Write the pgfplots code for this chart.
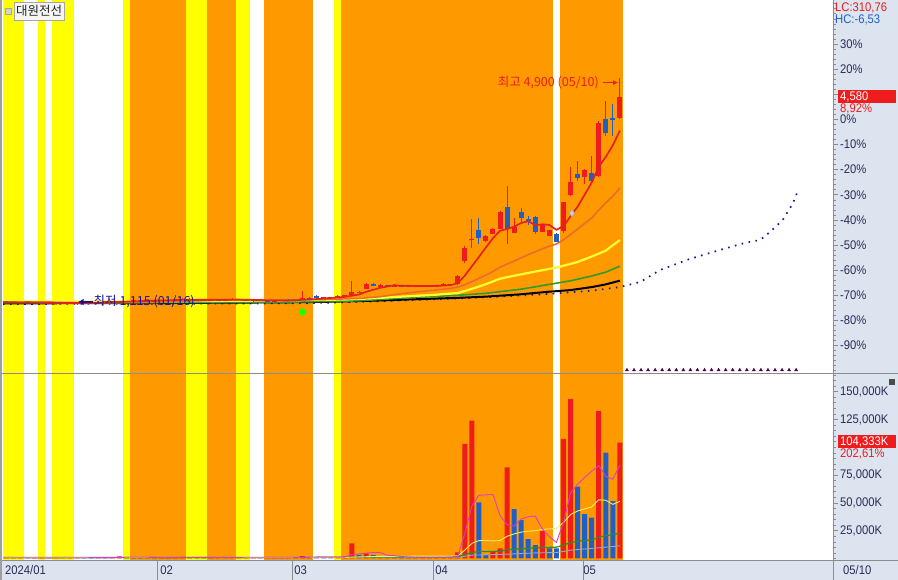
\documentclass[border=0pt]{standalone}
\usepackage{pgfplots}
\pgfplotsset{compat=1.18}
\usepackage{pgfplotstable}
\usepackage{fontspec}
\usetikzlibrary{arrows.meta}
\setmainfont{Liberation Sans}
\newfontfamily\lab[FakeStretch=0.9]{Liberation Sans}
\newfontfamily\kr{Noto Sans CJK KR}
\definecolor{bandY}{HTML}{FFFF00}
\definecolor{bandO}{HTML}{FF9900}
\definecolor{panel}{HTML}{DCE4F0}
\definecolor{cred}{HTML}{EE1C1C}
\definecolor{cblue}{HTML}{1F5FC8}
\definecolor{ma5}{HTML}{E8201A}
\definecolor{ma20}{HTML}{EE6A2C}
\definecolor{ma60}{HTML}{FFFF30}
\definecolor{ma120}{HTML}{2E9A30}
\definecolor{dotblue}{HTML}{1414A0}
\definecolor{labc}{HTML}{2B2B55}
\definecolor{gridc}{HTML}{8C8C8C}
\definecolor{vmag}{HTML}{DD3CC8}
\definecolor{vyel}{HTML}{EFEF60}
\definecolor{vgrn}{HTML}{2E8B2E}
\definecolor{vgry}{HTML}{8FA8D8}
\newcommand{\lf}{\lab\fontsize{12.5bp}{12.5bp}\selectfont}
\newcommand{\kf}{\kr\fontsize{12.5bp}{12.5bp}\selectfont}
\newcommand{\tf}{\kr\fontsize{12.5bp}{12.5bp}\selectfont}
\newcommand{\drawbands}[2]{%
  \fill[bandY] (axis cs:0,#1) rectangle (axis cs:3,#2);
  \fill[bandY] (axis cs:5,#1) rectangle (axis cs:6,#2);
  \fill[bandY] (axis cs:7,#1) rectangle (axis cs:10,#2);
  \fill[bandY] (axis cs:17,#1) rectangle (axis cs:18,#2);
  \fill[bandO] (axis cs:18,#1) rectangle (axis cs:26,#2);
  \fill[bandY] (axis cs:26,#1) rectangle (axis cs:29,#2);
  \fill[bandO] (axis cs:29,#1) rectangle (axis cs:33,#2);
  \fill[bandY] (axis cs:33,#1) rectangle (axis cs:35,#2);
  \fill[bandO] (axis cs:37,#1) rectangle (axis cs:44,#2);
  \fill[bandY] (axis cs:47,#1) rectangle (axis cs:48,#2);
  \fill[bandO] (axis cs:48,#1) rectangle (axis cs:78,#2);
  \fill[bandO] (axis cs:79,#1) rectangle (axis cs:88,#2);
}

\pgfplotstableread{
d O H L C
2 1140 1150 1130 1145
3 1145 1160 1140 1150
6 1135 1145 1125 1140
10 1125 1135 1115 1130
11 1130 1140 1125 1135
12 1135 1150 1130 1145
13 1145 1160 1140 1150
14 1150 1165 1145 1160
17 1150 1175 1145 1170
18 1170 1185 1160 1175
19 1175 1200 1165 1180
21 1170 1185 1160 1175
22 1175 1190 1165 1185
24 1180 1195 1170 1190
25 1190 1215 1180 1200
29 1180 1200 1175 1195
31 1185 1195 1175 1190
32 1190 1210 1185 1200
35 1175 1185 1165 1180
38 1170 1180 1160 1175
39 1175 1190 1170 1185
41 1180 1190 1170 1185
42 1185 1330 1180 1210
45 1215 1235 1205 1225
46 1225 1240 1215 1230
47 1230 1260 1220 1255
48 1250 1275 1240 1260
49 1260 1500 1250 1310
50 1310 1340 1295 1320
51 1365 1465 1360 1459
53 1420 1445 1410 1430
55 1420 1450 1410 1425
57 1415 1430 1400 1420
59 1410 1435 1405 1425
61 1420 1440 1410 1430
62 1430 1460 1420 1440
63 1440 1455 1425 1450
64 1449 1600 1440 1587
65 1838 2080 1800 2050
66 2184 2535 2050 2210
68 2172 2270 2160 2251
69 2294 2380 2280 2368
70 2378 2680 2370 2657
72 2311 2551 2300 2406
76 2328 2440 2320 2435
77 2256 2360 2250 2351
79 2339 2830 2311 2824
80 2936 3409 2920 3158
82 3247 3380 3120 3354
84 3258 4170 3240 4149
87 4233 4900 4210 4580
}\redc
\pgfplotstableread{
d O H L C
0 1150 1165 1140 1145
1 1145 1155 1135 1140
4 1150 1155 1135 1140
5 1140 1150 1130 1135
7 1140 1150 1130 1135
8 1135 1140 1125 1130
9 1130 1135 1120 1125
15 1160 1170 1150 1155
16 1155 1165 1145 1150
20 1180 1190 1165 1170
23 1185 1195 1175 1180
26 1200 1210 1185 1190
27 1190 1200 1180 1185
28 1185 1195 1175 1180
30 1195 1205 1180 1185
33 1200 1205 1180 1185
34 1185 1195 1170 1175
36 1180 1190 1170 1175
37 1175 1185 1165 1170
40 1185 1195 1175 1180
43 1210 1230 1195 1205
44 1253 1265 1205 1215
52 1450 1460 1410 1420
54 1430 1440 1405 1420
56 1425 1435 1400 1415
58 1420 1430 1400 1410
60 1425 1440 1410 1420
67 2351 2551 2117 2217
71 2740 3091 2127 2368
73 2657 2729 2478 2562
74 2530 2590 2440 2518
75 2573 2590 2284 2328
78 2294 2300 2150 2156
81 3297 3509 3175 3230
83 3304 3593 3150 3175
85 4206 4512 3927 3982
86 4220 4457 3927 4205
}\bluec
\pgfplotstableread{
d v
0 0.8
2 0.7
4 0.6
6 0.7
9 0.6
10 0.9
13 0.8
15 1.2
16 1.8
22 0.8
24 0.9
25 1.4
30 0.8
32 0.8
35 0.6
37 0.6
38 0.7
40 0.7
42 2.2
47 1.2
48 2.0
49 13.7
51 4.7
59 0.9
61 0.9
62 1.0
63 1.5
64 5.6
65 103
66 124
69 6.7
70 9.2
71 82
76 24.7
79 107.5
80 143.4
84 132.6
87 104.3
}\redv
\pgfplotstableread{
d v
1 0.6
3 0.5
5 0.5
7 0.6
8 0.5
11 0.7
12 0.6
14 0.7
17 1.0
18 0.9
19 0.8
20 0.7
21 0.6
23 0.7
26 1.2
27 0.9
28 0.8
29 0.7
31 0.7
33 0.6
34 0.5
36 0.5
39 0.6
41 0.6
43 1.4
44 1.2
45 0.9
46 0.9
50 3.0
52 3.2
53 2.0
54 1.5
55 1.2
56 1.0
57 0.9
58 0.8
60 0.8
67 50.5
68 3.1
72 44.5
73 34.6
74 17.5
75 12.1
77 9.2
78 9.2
81 64.6
82 40.0
83 36.7
85 95.2
86 51.5
}\bluev

\pgfplotsset{chartax/.style={
  scale only axis, width=830bp, xmin=0, xmax=117.73,
  axis line style={draw=none},
  ytick pos=right, yticklabel pos=right,
  tick align=outside, major tick length=5bp, minor tick length=3bp,
  ytick style={draw=gridc, line width=0.7bp},
  minor y tick style={draw=gridc, line width=0.6bp},
  yticklabel style={font=\lf, text=labc, anchor=west, inner sep=0pt, xshift=2bp},
}}

\begin{document}
\begin{tikzpicture}[x=1bp,y=1bp]
\useasboundingbox (0,0) rectangle (898,580);
\fill[white] (0,0) rectangle (898,580);
\fill[panel] (833,0) rectangle (898,580);
\fill[panel] (0,0) rectangle (898,19.5);

% ---------------- price panel ----------------
\begin{axis}[chartax,
  at={(3bp,207bp)}, anchor=south west, height=373bp,
  ymin=-37, ymax=6202,
  xtick=\empty,
  ytick={5466.5,5046,4625.5,4205,3784.5,3364,2943.5,2523,2102.5,1682,1261.5,841,420.5},
  yticklabels={30\%,20\%,{},0\%,-10\%,-20\%,-30\%,-40\%,-50\%,-60\%,-70\%,-80\%,-90\%},
  minor ytick={0,84.1,...,6200},
]
\drawbands{-37}{6202}
% long moving averages
\addplot[dotblue, line width=1.7bp, dash pattern=on 1.6bp off 5.45bp] coordinates {(0,1118)(20.5,1120)(40.5,1128)(46.5,1140)(52.5,1160)(58.5,1184)(68.5,1230)(77.5,1285)(83.5,1340)(87.5,1400)(90.4,1486)(93.2,1686)(97.4,1870)(101.7,2021)(105.2,2138)(107.4,2188)(108.8,2322)(110.6,2523)(112,2791)(112.8,3025)};
\addplot[black, line width=2bp] coordinates {(0,1128)(20.5,1132)(40.5,1145)(46.5,1155)(52.5,1172)(58.5,1196)(64.5,1220)(68.5,1240)(73.5,1280)(77.5,1323)(80.5,1350)(83.5,1400)(85.5,1445)(87.5,1507)};
\addplot[ma120, line width=1.6bp] coordinates {(0,1135)(20.5,1138)(40.5,1148)(50.5,1170)(58.5,1230)(64.5,1262)(68.5,1296)(73.5,1365)(77.5,1445)(80.5,1505)(83.5,1585)(85.5,1650)(87.5,1750)};
\addplot[ma60, line width=2.2bp] coordinates {(0,1162)(10.5,1158)(20.5,1160)(30.5,1168)(40.5,1178)(48.5,1192)(52.5,1212)(56.5,1240)(60.5,1265)(64.5,1300)(66.5,1370)(68.5,1450)(70.5,1540)(72.5,1590)(75.5,1660)(78.5,1725)(81.5,1820)(83.5,1910)(85.5,2010)(87.5,2188)};
\addplot[ma20, line width=1.6bp] coordinates {(0,1150)(5.5,1147)(10.5,1141)(15.5,1140)(20.5,1148)(25.5,1163)(30.5,1180)(35.5,1186)(40.5,1183)(45.5,1192)(50.5,1210)(53.5,1240)(56.5,1290)(60.5,1340)(63.5,1378)(64.5,1400)(65.5,1440)(66.5,1490)(67.5,1545)(68.5,1600)(69.5,1660)(70.5,1730)(71.5,1785)(72.5,1835)(73.5,1890)(74.5,1945)(75.5,1990)(76.5,2040)(77.5,2085)(78.5,2120)(79.5,2190)(80.5,2280)(81.5,2370)(82.5,2465)(83.5,2555)(84.5,2690)(85.5,2810)(86.5,2920)(87.5,3060)};
% candles: wicks
\addplot[draw=none, mark=none, error bars/.cd, y dir=both, y explicit, error mark=none,
  error bar style={draw=cred, line width=1bp}]
  table[x expr=\thisrow{d}+0.5, y expr=(\thisrow{H}+\thisrow{L})/2, y error expr=(\thisrow{H}-\thisrow{L})/2] {\redc};
\addplot[draw=none, mark=none, error bars/.cd, y dir=both, y explicit, error mark=none,
  error bar style={draw=cblue, line width=1bp}]
  table[x expr=\thisrow{d}+0.5, y expr=(\thisrow{H}+\thisrow{L})/2, y error expr=(\thisrow{H}-\thisrow{L})/2] {\bluec};
% candles: bodies
\addplot[draw=none, mark=none, error bars/.cd, y dir=both, y explicit, error mark=none,
  error bar style={draw=cred, line width=5bp}]
  table[x expr=\thisrow{d}+0.5, y expr=(\thisrow{O}+\thisrow{C})/2, y error expr={max(abs(\thisrow{C}-\thisrow{O})/2,9)}] {\redc};
\addplot[draw=none, mark=none, error bars/.cd, y dir=both, y explicit, error mark=none,
  error bar style={draw=cblue, line width=5bp}]
  table[x expr=\thisrow{d}+0.5, y expr=(\thisrow{O}+\thisrow{C})/2, y error expr={max(abs(\thisrow{C}-\thisrow{O})/2,9)}] {\bluec};
% 5-day average
\addplot[ma5, line width=1.7bp] coordinates {(0,1149)(0.5,1148)(1.5,1145)(2.5,1144)(3.5,1145)(4.5,1144)(5.5,1142)(6.5,1142)(7.5,1140)(8.5,1136)(9.5,1133)(10.5,1132)(11.5,1131)(12.5,1133)(13.5,1137)(14.5,1144)(15.5,1149)(16.5,1152)(17.5,1157)(18.5,1162)(19.5,1166)(20.5,1169)(21.5,1174)(22.5,1177)(23.5,1178)(24.5,1180)(25.5,1186)(26.5,1189)(27.5,1189)(28.5,1189)(29.5,1190)(30.5,1187)(31.5,1187)(32.5,1190)(33.5,1191)(34.5,1187)(35.5,1186)(36.5,1183)(37.5,1177)(38.5,1175)(39.5,1177)(40.5,1177)(41.5,1179)(42.5,1187)(43.5,1193)(44.5,1199)(45.5,1208)(46.5,1217)(47.5,1226)(48.5,1237)(49.5,1256)(50.5,1275)(51.5,1321)(52.5,1354)(53.5,1388)(54.5,1410)(55.5,1431)(56.5,1422)(57.5,1422)(58.5,1418)(59.5,1419)(60.5,1418)(61.5,1421)(62.5,1425)(63.5,1433)(64.5,1465)(65.5,1591)(66.5,1747)(67.5,1903)(68.5,2063)(69.5,2219)(70.5,2341)(71.5,2372)(72.5,2410)(73.5,2472)(74.5,2502)(75.5,2436)(76.5,2450)(77.5,2439)(78.5,2358)(79.5,2419)(80.5,2585)(81.5,2744)(82.5,2944)(83.5,3148)(84.5,3413)(85.5,3578)(86.5,3773)(87.5,4018)};
% signal marks
\addplot[only marks, mark=*, mark size=3.5bp, color=green!85!lime] coordinates {(42.5,984)};
\addplot[only marks, mark=diamond*, mark size=3.5bp, draw=gray!70, fill=gray!40] coordinates {(80.7,2635)};
\addplot[only marks, mark=triangle*, mark size=1.8bp, color=violet!60!black] coordinates {(88.5,12)(89.5,12)(90.5,12)(91.5,12)(92.5,12)(93.5,12)(94.5,12)(95.5,12)(96.5,12)(97.5,12)(98.5,12)(99.5,12)(100.5,12)(101.5,12)(102.5,12)(103.5,12)(104.5,12)(105.5,12)(106.5,12)(107.5,12)(108.5,12)(109.5,12)(110.5,12)(111.5,12)(112.5,12)};
\coordinate (hiA) at (axis cs:85.1,4820);
\coordinate (hiB) at (axis cs:87.25,4820);
\coordinate (loA) at (axis cs:12.7,1150);
\coordinate (loB) at (axis cs:10.6,1150);
\end{axis}

% ---------------- volume panel ----------------
\begin{axis}[chartax,
  at={(3bp,20bp)}, anchor=south west, height=186bp,
  ymin=-1.35, ymax=165.9,
  xtick pos=bottom, xticklabel pos=bottom,
  xtick={0,22,41,61,82}, xticklabels={2024/01,02,03,04,05},
  xtick style={draw=none},
  xticklabel style={font=\lf, text=labc, anchor=west, inner sep=0pt, xshift=2bp, yshift=-5bp},
  ytick={25,50,75,125,150},
  yticklabels={{25,000K},{50,000K},{75,000K},{125,000K},{150,000K}},
  minor ytick={0,5,...,165},
]
\drawbands{-1.35}{165.9}
\addplot[ybar, bar width=5bp, bar shift=0pt, fill=cred, draw=none] table[x expr=\thisrow{d}+0.5, y=v] {\redv};
\addplot[ybar, bar width=5bp, bar shift=0pt, fill=cblue, draw=none] table[x expr=\thisrow{d}+0.5, y=v] {\bluev};
\addplot[vgry, line width=0.9bp] coordinates {(0,0.8)(60.5,1.0)(64.5,1.1)(65.5,2.0)(66.5,3.0)(70.5,3.6)(75.5,5.0)(78.5,5.4)(79.5,6.3)(80.5,7.5)(84.5,9.6)(87.5,11.4)};
\addplot[vgrn, line width=1.2bp] coordinates {(0,0.9)(40.5,0.9)(55.5,1.4)(63.5,1.6)(64.5,1.7)(65.5,3.4)(66.5,5.4)(67.5,6.2)(70.5,6.5)(71.5,7.8)(75.5,9.6)(78.5,10.2)(79.5,12.0)(80.5,14.4)(81.5,15.5)(83.5,16.8)(84.5,19.0)(85.5,20.6)(86.5,21.4)(87.5,22.8)};
\addplot[vyel, line width=0.9bp] coordinates {(0,0.8)(20.5,0.9)(40.5,0.8)(48.5,1.0)(52.5,1.8)(60.5,2.2)(63.5,2.1)(64.5,2.4)(65.5,7.5)(66.5,13.6)(67.5,16.1)(68.5,16.2)(69.5,15.8)(70.5,16.1)(71.5,20.0)(72.5,22.1)(73.5,23.7)(74.5,24.5)(75.5,25.0)(76.5,26.2)(77.5,26.6)(78.5,27.1)(79.5,32.4)(80.5,39.5)(81.5,42.7)(82.5,44.6)(83.5,46.4)(84.5,52.8)(85.5,52.4)(86.5,48.7)(87.5,51.4)};
\addplot[vmag, line width=0.9bp] coordinates {(0,0.7)(5.5,0.6)(10.5,0.65)(15.5,0.85)(17.5,1.1)(20.5,1.1)(22.5,0.8)(25.5,0.9)(27.5,1.0)(30.5,0.9)(35.5,0.65)(40.5,0.6)(42.5,0.95)(44.5,1.2)(46.5,1.3)(48.5,1.2)(49.5,3.8)(50.5,4.0)(51.5,4.9)(52.5,5.3)(53.5,5.3)(54.5,2.9)(55.5,2.5)(56.5,1.8)(57.5,1.3)(58.5,1.1)(59.5,0.9)(60.5,0.88)(61.5,0.86)(62.5,0.88)(63.5,1.02)(64.5,1.96)(65.5,22.4)(66.5,47.0)(67.5,56.9)(68.5,57.2)(69.5,57.5)(70.5,38.7)(71.5,30.3)(72.5,29.1)(73.5,35.4)(74.5,37.6)(75.5,38.1)(76.5,26.7)(77.5,19.6)(78.5,14.5)(79.5,32.5)(80.5,58.8)(81.5,66.8)(82.5,72.9)(83.5,78.4)(84.5,83.5)(85.5,73.8)(86.5,71.2)(87.5,84.1)};
\end{axis}

% frame lines
\draw[gridc, line width=1bp] (0,206.5) -- (898,206.5);
\draw[gridc, line width=1bp] (0,19.5) -- (898,19.5);
\draw[gridc, line width=0.8bp] (833,0) -- (833,580);
\draw[gray!75, line width=2bp] (1,0) -- (1,580);
\foreach \xx in {157.5,292.5,433.5,583.5} {\draw[gridc, line width=0.8bp] (\xx,0) -- (\xx,19.5);}

% annotations
\draw[cred, line width=0.9bp, -{Latex[length=5bp,width=5bp]}] (hiA) -- (hiB);
\node[anchor=east, text=cred, inner sep=0pt, font=\kf] at ([xshift=-4bp]hiA) {최고 4,900 (05/10)};
\draw[dotblue, line width=1.2bp, -{Latex[length=6bp,width=7bp]}] (loA) -- (loB);
\node[anchor=west, text=dotblue, inner sep=0pt, font=\kf] at ([xshift=1bp]loA) {최저 1,115 (01/16)};

% title box
\draw[gray!70, fill=gray!35] (5,566) rectangle (11,572);
\node[anchor=north west, draw=gray!70, fill=gray!8, inner xsep=2bp, inner ysep=0pt, minimum height=18bp, font=\tf, text=black!85] at (14,578) {대원전선};

% right panel labels
\node[anchor=west, inner sep=0pt, font=\lf, text=cred] at (835,572) {LC:310,76};
\node[anchor=west, inner sep=0pt, font=\lf, text=cblue] at (835,560) {HC:-6,53};
\fill[cred] (838,476.5) rectangle (896,489.5);
\node[anchor=west, inner sep=0pt, font=\lf, text=white] at (840,483) {4,580};
\node[anchor=west, inner sep=0pt, font=\lf, text=cred] at (840,471) {8,92\%};
\fill[cred] (838,131.5) rectangle (896,144.5);
\node[anchor=west, inner sep=0pt, font=\lf, text=white] at (840,138) {104,333K};
\node[anchor=west, inner sep=0pt, font=\lf, text=cred] at (840,126.5) {202,61\%};
\fill[gray!60!black] (889,195) rectangle (895,201);
\node[anchor=west, inner sep=0pt, font=\lf, text=labc] at (843,9.5) {05/10};
\end{tikzpicture}
\end{document}
